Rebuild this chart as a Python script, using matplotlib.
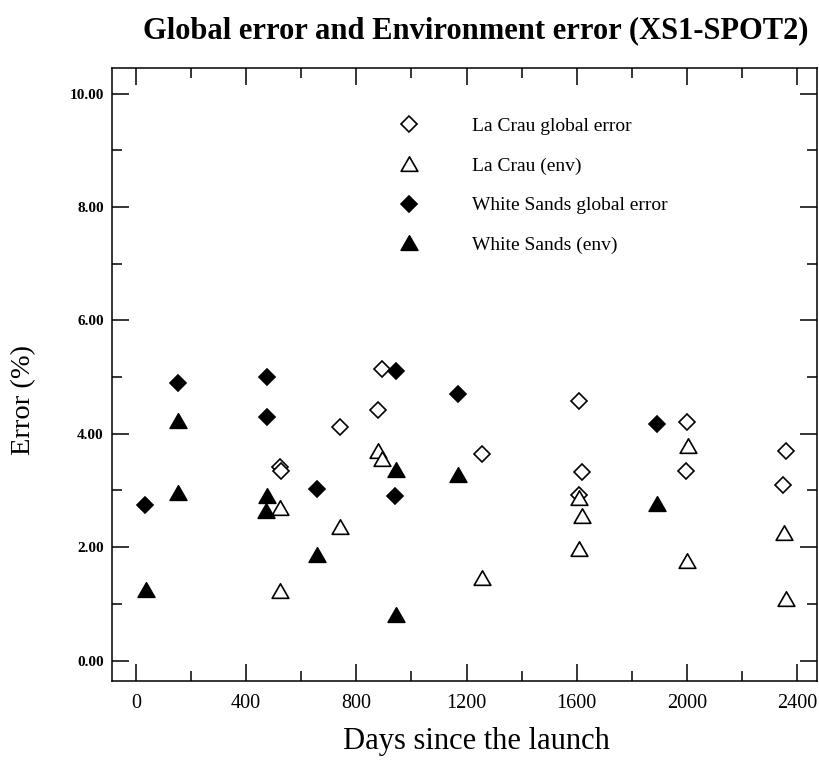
import matplotlib.pyplot as plt
from matplotlib.path import Path
from matplotlib.ticker import MultipleLocator, FormatStrFormatter

# La Crau global error (open diamonds)
lc_glob_days = [523, 525, 740, 880, 892, 1255, 1609, 1618, 1609, 2001, 1996, 2359, 2350]
lc_glob_err = [3.41, 3.35, 4.12, 4.42, 5.14, 3.64, 4.57, 3.33, 2.92, 4.20, 3.35, 3.70, 3.09]

# La Crau environment error (open triangles)
lc_env_days = [523, 523, 740, 877, 892, 1255, 1609, 1618, 1609, 2002, 1999, 2352, 2359]
lc_env_err = [2.69, 1.23, 2.36, 3.69, 3.55, 1.45, 2.86, 2.55, 1.96, 3.79, 1.75, 2.25, 1.08]

# White Sands global error (filled diamonds)
ws_glob_days = [33, 154, 477, 474, 658, 944, 940, 1170, 1890]
ws_glob_err = [2.75, 4.90, 5.00, 4.29, 3.02, 5.11, 2.90, 4.70, 4.17]

# White Sands environment error (filled triangles)
ws_env_days = [36, 154, 154, 474, 472, 656, 944, 944, 1170, 1892]
ws_env_err = [1.25, 4.22, 2.95, 2.90, 2.64, 1.86, 3.36, 0.81, 3.27, 2.76]

plt.rcParams['font.family'] = ['Liberation Serif', 'DejaVu Serif']

# closed, roughly equilateral triangle marker
tri = Path([(-1, -0.82), (1, -0.82), (0, 0.92), (-1, -0.82)], closed=True)

fig = plt.figure(figsize=(8.2, 7.6), dpi=100)
ax = fig.add_axes([112/820, 79/760, 705/820, 613/760])

ax.plot(lc_glob_days, lc_glob_err, ls='none', marker='D', ms=8, mfc='white',
        mec='black', mew=1.2, label='La Crau global error')
ax.plot(lc_env_days, lc_env_err, ls='none', marker=tri, ms=12, mfc='white',
        mec='black', mew=1.2, label='La Crau (env)')
ax.plot(ws_glob_days, ws_glob_err, ls='none', marker='D', ms=8, mfc='black',
        mec='black', mew=1.2, label='White Sands global error')
ax.plot(ws_env_days, ws_env_err, ls='none', marker=tri, ms=12, mfc='black',
        mec='black', mew=1.2, label='White Sands (env)')

ax.set_xlim(-87, 2472)
ax.set_ylim(-0.36, 10.45)
ax.xaxis.set_major_locator(MultipleLocator(400))
ax.xaxis.set_minor_locator(MultipleLocator(200))
ax.yaxis.set_major_locator(MultipleLocator(2))
ax.yaxis.set_minor_locator(MultipleLocator(1))
ax.yaxis.set_major_formatter(FormatStrFormatter('%.2f'))

ax.tick_params(which='both', direction='in', top=True, right=True, width=1.1)
ax.tick_params(which='major', length=12)
ax.tick_params(which='minor', length=7)
ax.tick_params(axis='x', which='major', labelsize=14.5, pad=9)
ax.tick_params(axis='y', which='major', labelsize=11, pad=6)
for lab in ax.get_yticklabels():
    lab.set_fontweight('bold')
for s in ax.spines.values():
    s.set_linewidth(1.1)

ax.legend(loc='upper left', bbox_to_anchor=(0.408, 0.919), frameon=False,
          fontsize=14, numpoints=1, handlelength=1.0, handletextpad=2.7,
          labelspacing=1.13, borderpad=0, borderaxespad=0)

fig.text(476/820, 1 - 31/760, 'Global error and Environment error (XS1-SPOT2)',
         ha='center', va='center', fontsize=22, fontweight='bold')
fig.text(476/820, 1 - 742/760, 'Days since the launch', ha='center',
         va='center', fontsize=22)
fig.text(24/820, 1 - 400/760, 'Error (%)', ha='center', va='center',
         fontsize=20.5, rotation=90)

fig.savefig('out.png', dpi=100)
